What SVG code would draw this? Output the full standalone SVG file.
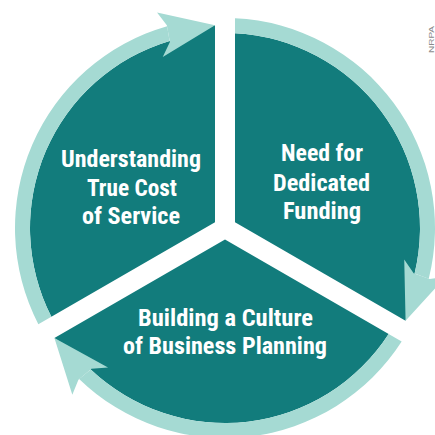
<svg xmlns="http://www.w3.org/2000/svg" width="435" height="435" viewBox="0 0 435 435">
  <style>
    .sector { fill: #127c7c; }
    .ring { fill: #a5dad3; }
    .head { fill: #a5dad3; }
    .label { fill: #ffffff; font-family: "Roboto Condensed", "DejaVu Sans Condensed", "Liberation Sans Narrow", Roboto, "Liberation Sans", sans-serif; font-weight: bold; font-size: 23.5px; text-anchor: middle; }
    .credit { fill: #8a8a8a; font-family: "Liberation Sans", Arial, sans-serif; font-size: 8px; }
  </style>
  <defs>
    <path id="sectorShape" d="M215,222.23 L215,25.25 L169.62,41.03 A195,195 0 0,0 51.35,316.71 Z"/>
    <path id="ringShape" d="M38.34,324.22 A210,210 0 0,1 167.12,26.14 L169.62,41.03 A195,195 0 0,0 51.35,316.71 Z"/>
    <polygon id="headShape" points="215,25.25 157.04,12.46 166.84,25.17 169.9,41.99 162.75,56.98"/>
  </defs>
  <rect width="435" height="435" fill="#ffffff"/>

  <g id="node-understanding">
    <use href="#sectorShape" class="sector"/>
    <text class="label" x="131" y="167" textLength="140" lengthAdjust="spacingAndGlyphs">Understanding</text>
    <text class="label" x="132" y="195.5" textLength="90" lengthAdjust="spacingAndGlyphs">True Cost</text>
    <text class="label" x="131" y="224" textLength="98" lengthAdjust="spacingAndGlyphs">of Service</text>
  </g>

  <g id="node-funding">
    <use href="#sectorShape" class="sector" transform="rotate(120 225 228)"/>
    <text class="label" x="322" y="161" textLength="82" lengthAdjust="spacingAndGlyphs">Need for</text>
    <text class="label" x="321.5" y="190.5" textLength="97" lengthAdjust="spacingAndGlyphs">Dedicated</text>
    <text class="label" x="322" y="219" textLength="78" lengthAdjust="spacingAndGlyphs">Funding</text>
  </g>

  <g id="node-planning">
    <use href="#sectorShape" class="sector" transform="rotate(240 225 228)"/>
    <text class="label" x="225.5" y="326" textLength="175" lengthAdjust="spacingAndGlyphs">Building a Culture</text>
    <text class="label" x="225" y="354" textLength="204" lengthAdjust="spacingAndGlyphs">of Business Planning</text>
  </g>

  <g id="connectors">
    <use href="#ringShape" class="ring"/>
    <use href="#headShape" class="head"/>
    <use href="#ringShape" class="ring" transform="rotate(120 225 228)"/>
    <use href="#headShape" class="head" transform="rotate(120 225 228)"/>
    <use href="#ringShape" class="ring" transform="rotate(240 225 228)"/>
    <use href="#headShape" class="head" transform="rotate(240 225 228)"/>
  </g>

  <text class="credit" transform="translate(434,53) rotate(-90)" textLength="27" lengthAdjust="spacingAndGlyphs">NRPA</text>
</svg>
